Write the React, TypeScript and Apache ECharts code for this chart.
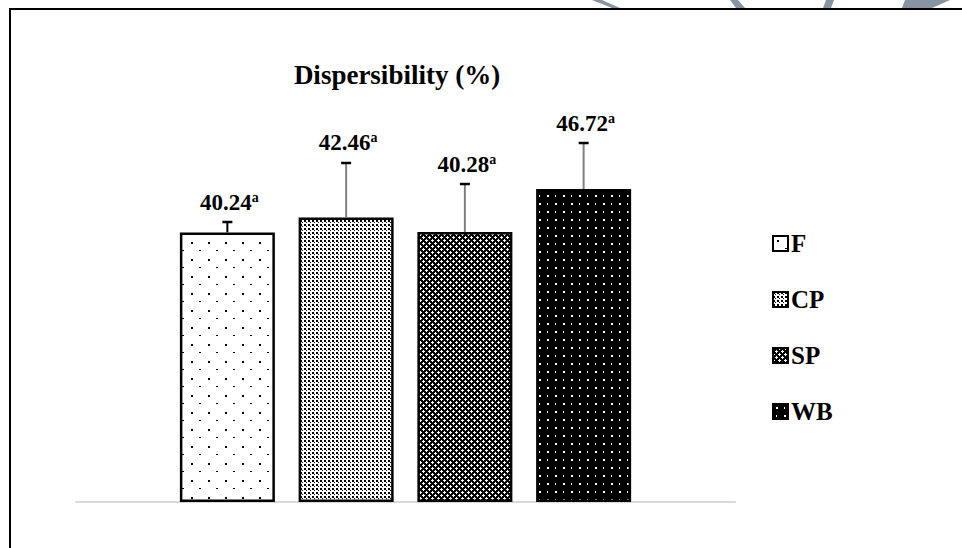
import React, { useEffect, useRef } from "react";
import * as echarts from "echarts";

const categories = ["Dispersibility (%)"];
const seriesNames = ["F", "CP", "SP", "WB"];
const values = [40.24, 42.46, 40.28, 46.72];
const errors = [1.55, 8.14, 7.18, 6.86];
const letters = ["a", "a", "a", "a"];

const FONT = "'Times New Roman', 'Liberation Serif', serif";
const BAR_W = 95;
const GAP_PCT = 25;

function makeTile(size: number, bg: string, fg: string, rects: number[][]) {
  const c = document.createElement("canvas");
  c.width = size;
  c.height = size;
  const ctx = c.getContext("2d")!;
  ctx.fillStyle = bg;
  ctx.fillRect(0, 0, size, size);
  ctx.fillStyle = fg;
  rects.forEach((r) => ctx.fillRect(r[0], r[1], r[2], r[3]));
  return { image: c.toDataURL(), repeat: "repeat", imageWidth: size, imageHeight: size };
}

function patterns() {
  const f = makeTile(17, "#ffffff", "#000000", [
    [4, 4, 2, 2],
    [12, 12, 2, 1],
  ]);
  const cp = makeTile(4, "#ffffff", "#000000", [
    [0, 0, 2, 2],
    [2, 2, 1, 1],
  ]);
  const sp = makeTile(6, "#000000", "#ffffff", [
    [3, 2, 1, 1],
    [2, 3, 3, 1],
    [3, 4, 1, 1],
    [0, 0, 2, 1],
    [5, 0, 1, 1],
    [0, 1, 1, 1],
    [0, 5, 1, 1],
  ]);
  const wb = makeTile(16, "#000000", "#ffffff", [
    [3, 3, 2, 2],
    [11, 11, 2, 2],
    [11, 3, 1, 2],
    [3, 11, 1, 2],
  ]);
  return [f, cp, sp, wb];
}

export default function App() {
  const ref = useRef<HTMLDivElement>(null);
  useEffect(() => {
    if (!ref.current) return;
    const chart = echarts.init(ref.current, undefined, { renderer: "svg" });
    const pats = patterns();
    const step = BAR_W * (1 + GAP_PCT / 100);

    const bars = seriesNames.map((name, i) => ({
      name,
      type: "bar",
      barWidth: BAR_W,
      barGap: GAP_PCT + "%",
      data: [values[i]],
      itemStyle: { color: pats[i] as any, borderColor: "#000", borderWidth: 2.5 },
      z: 2,
    }));

    const errData = values.map((v, i) => [0, v, errors[i], i]);

    const option: any = {
      animation: false,
      backgroundColor: "#fff",
      title: {
        text: "Dispersibility (%)",
        left: 392,
        top: 56,
        textAlign: "center",
        textStyle: { fontFamily: FONT, fontWeight: "bold", fontSize: 27, color: "#000" },
      },
      legend: {
        data: seriesNames,
        orient: "vertical",
        left: 767,
        top: 226,
        itemWidth: 15,
        itemHeight: 15,
        itemGap: 31,
        icon: "rect",
        itemStyle: { borderColor: "#000", borderWidth: 2 },
        textStyle: { fontFamily: FONT, fontWeight: "bold", fontSize: 25, color: "#000", padding: [0, 0, 0, -2] },
      },
      grid: { left: 76, right: 227, top: 100, bottom: 46 },
      xAxis: {
        type: "category",
        data: categories,
        axisLine: { show: true, lineStyle: { color: "#d9d9d9", width: 2 } },
        axisTick: { show: false },
        axisLabel: { show: false },
      },
      yAxis: { type: "value", min: 0, max: 60, show: false, splitLine: { show: false } },
      series: [
        ...bars,
        {
          type: "custom",
          name: "err",
          data: errData,
          z: 5,
          renderItem: (params: any, api: any) => {
            const v = api.value(1);
            const e = api.value(2);
            const idx = api.value(3);
            const base = api.coord([0, v]);
            const topP = api.coord([0, v + e]);
            const x = base[0] + (idx - 1.5) * step;
            return {
              type: "group",
              children: [
                {
                  type: "line",
                  shape: { x1: x, y1: base[1], x2: x, y2: topP[1] },
                  style: { stroke: idx === 0 ? "#000" : "#808080", lineWidth: 2 },
                },
                {
                  type: "line",
                  shape: { x1: x - 5, y1: topP[1], x2: x + 5, y2: topP[1] },
                  style: { stroke: "#000", lineWidth: 2.5 },
                },
                {
                  type: "text",
                  style: {
                    text: "{v|" + values[idx].toFixed(2) + "}{s|" + letters[idx] + "}",
                    x: x + 2,
                    y: topP[1] - 8,
                    align: "center",
                    verticalAlign: "bottom",
                    rich: {
                      v: { fontFamily: FONT, fontWeight: "bold", fontSize: 23, color: "#000", lineHeight: 24 },
                      s: { fontFamily: FONT, fontWeight: "bold", fontSize: 14, color: "#000", lineHeight: 24, verticalAlign: "top" },
                    },
                  },
                },
              ],
            };
          },
        },
      ],
      graphic: [
        {
          type: "rect",
          shape: { x: 10, y: 9, width: 1000, height: 600 },
          style: { fill: "none", stroke: "#000", lineWidth: 2 },
          silent: true,
        },
        { type: "polygon", shape: { points: [[592, 0], [602, 0], [620, 8], [612, 8]] }, style: { fill: "#8795a3" } },
        { type: "polygon", shape: { points: [[730, 0], [738, 0], [745, 8], [736, 8]] }, style: { fill: "#8795a3" } },
        { type: "polygon", shape: { points: [[826, 0], [834, 0], [831, 8], [823, 8]] }, style: { fill: "#8795a3" } },
        { type: "polygon", shape: { points: [[905, 0], [950, 0], [932, 8], [902, 8]] }, style: { fill: "#8795a3" } },
      ],
    };
    chart.setOption(option);
    return () => chart.dispose();
  }, []);
  return <div ref={ref} style={{ width: 962, height: 548, position: "absolute", left: 0, top: 0 }} />;
}
